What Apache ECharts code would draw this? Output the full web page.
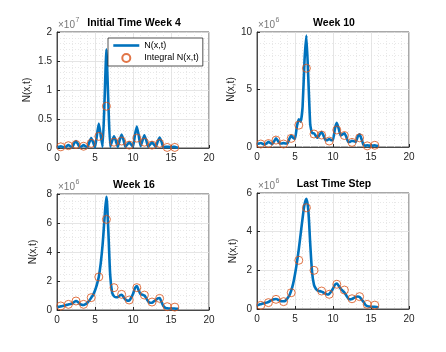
<!DOCTYPE html>
<html>
<head>
<meta charset="utf-8">
<script src="https://cdn.jsdelivr.net/npm/echarts@6/dist/echarts.min.js"></script>
<style>
  html, body { margin: 0; padding: 0; background: #fff; }
  #main { width: 446px; height: 352px; }
</style>
</head>
<body>
<div id="main"></div>
<script>
// x grid of the model curve (space)
var xFine = [0, 0.25, 0.5, 0.75, 1, 1.25, 1.5, 1.75, 2, 2.25, 2.5, 2.75, 3, 3.25, 3.5, 3.75,
  4, 4.25, 4.5, 4.75, 5, 5.25, 5.5, 5.75, 6, 6.25, 6.5, 6.75, 7, 7.25, 7.5, 7.75,
  8, 8.25, 8.5, 8.75, 9, 9.25, 9.5, 9.75, 10, 10.25, 10.5, 10.75, 11, 11.25, 11.5, 11.75,
  12, 12.25, 12.5, 12.75, 13, 13.25, 13.5, 13.75, 14, 14.25, 14.5, 14.75, 15, 15.25, 15.5, 15.75, 16];
// cell centres of the integral values
var xCells = [0.5, 1.5, 2.5, 3.5, 4.5, 5.5, 6.5, 7.5, 8.5, 9.5, 10.5, 11.5, 12.5, 13.5, 14.5, 15.5];

// week 4 (x 1e7)
var nWeek4 = [0.01, 0.02, 0.03, 0.02, 0.005, 0.03, 0.05, 0.03, 0.01, 0.08, 0.12, 0.07, 0.01, 0.03, 0.05, 0.03,
  0.01, 0.1, 0.17, 0.1, 0.01, 0.22, 0.42, 0.22, 0.02, 0.8, 1.7, 0.8, 0.02, 0.12, 0.2, 0.12,
  0.02, 0.14, 0.23, 0.14, 0.02, 0.06, 0.1, 0.06, 0.02, 0.22, 0.37, 0.22, 0.03, 0.13, 0.22, 0.13,
  0.02, 0.06, 0.1, 0.06, 0.02, 0.11, 0.18, 0.11, 0.01, 0.02, 0.02, 0.02, 0.01, 0.02, 0.02, 0.01, 0.005];
var intWeek4 = [0.02, 0.04, 0.06, 0.03, 0.08, 0.2, 0.72, 0.1, 0.12, 0.05, 0.17, 0.1, 0.05, 0.08, 0.01, 0.01];

// week 10 (x 1e6)
var nWeek10 = [0.25, 0.3, 0.35, 0.28, 0.2, 0.3, 0.45, 0.35, 0.25, 0.5, 0.75, 0.55, 0.3, 0.3, 0.35, 0.3,
  0.3, 0.7, 1.0, 0.8, 0.7, 1.8, 2.4, 2.2, 3.5, 7.5, 9.7, 6.0, 2.0, 1.2, 1.2, 0.95,
  0.8, 1.1, 1.3, 1.0, 0.6, 0.6, 0.7, 0.6, 0.6, 1.6, 2.1, 1.6, 1.0, 1.1, 1.2, 0.9,
  0.45, 0.45, 0.55, 0.5, 0.45, 0.9, 1.1, 0.7, 0.2, 0.12, 0.15, 0.12, 0.1, 0.12, 0.15, 0.1, 0.08];
var intWeek10 = [0.26, 0.3, 0.6, 0.26, 0.75, 1.9, 6.85, 1.13, 1.04, 0.52, 1.48, 1.0, 0.4, 0.8, 0.1, 0.15];

// week 16 (x 1e6)
var nWeek16 = [0.2, 0.22, 0.25, 0.28, 0.3, 0.34, 0.38, 0.42, 0.45, 0.55, 0.62, 0.55, 0.42, 0.36, 0.35, 0.4,
  0.5, 0.65, 0.85, 1.05, 1.35, 1.75, 2.3, 3.2, 4.5, 6.3, 7.8, 5.5, 2.4, 1.2, 0.95, 0.88,
  0.88, 1.0, 1.05, 0.9, 0.72, 0.65, 0.65, 0.85, 1.1, 1.5, 1.65, 1.35, 1.1, 1.05, 1.0, 0.8,
  0.6, 0.5, 0.5, 0.6, 0.68, 0.8, 0.82, 0.55, 0.28, 0.15, 0.12, 0.1, 0.1, 0.1, 0.1, 0.08, 0.08];
var intWeek16 = [0.28, 0.39, 0.62, 0.39, 0.85, 2.28, 6.25, 1.54, 1.08, 0.69, 1.54, 1.03, 0.55, 0.8, 0.23, 0.2];

// last time step (x 1e6)
var nLast = [0.2, 0.22, 0.25, 0.28, 0.3, 0.33, 0.36, 0.42, 0.47, 0.5, 0.52, 0.48, 0.43, 0.4, 0.4, 0.43,
  0.55, 0.7, 0.95, 1.3, 1.8, 2.4, 3.1, 3.9, 4.7, 5.4, 5.7, 5.1, 3.4, 1.9, 1.25, 1.05,
  0.95, 0.92, 0.9, 0.85, 0.8, 0.75, 0.78, 0.9, 1.05, 1.25, 1.32, 1.2, 1.05, 0.95, 0.85, 0.7,
  0.55, 0.5, 0.52, 0.58, 0.62, 0.65, 0.62, 0.5, 0.38, 0.22, 0.15, 0.13, 0.12, 0.12, 0.12, 0.1, 0.08];
var intLast = [0.19, 0.33, 0.5, 0.38, 0.84, 2.52, 5.24, 2.0, 0.93, 0.76, 1.28, 0.98, 0.53, 0.64, 0.24, 0.2];

var titles = ['Initial Time Week 4', 'Week 10', 'Week 16', 'Last Time Step'];
var exponents = ['7', '6', '6', '6'];
var yMax = [2, 10, 8, 6];
var yStep = [0.5, 5, 2, 2];
var yMinorSplit = [5, 5, 4, 4];
var lines = [nWeek4, nWeek10, nWeek16, nLast];
var dots = [intWeek4, intWeek10, intWeek16, intLast];

var boxes = [
  {left: 57, top: 32, width: 152, height: 116, nameGap: 25},
  {left: 257, top: 32, width: 152, height: 115, nameGap: 21},
  {left: 57, top: 194, width: 152, height: 116, nameGap: 19},
  {left: 257, top: 193, width: 152, height: 116, nameGap: 19}
];

var FONT = 'Liberation Sans, Arial, sans-serif';
var AX = '#262626';

function pairs(xs, ys) {
  return xs.map(function (x, i) { return [x, ys[i]]; });
}

var grids = [], xAxes = [], yAxes = [], series = [], graphics = [];
boxes.forEach(function (b, i) {
  grids.push({left: b.left, top: b.top, width: b.width, height: b.height,
    show: true, borderColor: AX, borderWidth: 0.8, backgroundColor: '#fff'});
  xAxes.push({
    type: 'value', gridIndex: i, min: 0, max: 20, interval: 5,
    axisLine: {show: true, lineStyle: {color: AX, width: 0.8}},
    axisTick: {show: true, inside: true, length: 3, lineStyle: {color: AX}},
    axisLabel: {color: AX, fontSize: 10, fontFamily: FONT, margin: 5},
    splitLine: {show: true, lineStyle: {color: '#dedede', width: 0.8}},
    minorTick: {show: false, splitNumber: 5},
    minorSplitLine: {show: true, lineStyle: {color: '#e2e2e2', type: [1, 2], width: 0.8}}
  });
  yAxes.push({
    type: 'value', gridIndex: i, min: 0, max: yMax[i], interval: yStep[i],
    name: 'N(x,t)', nameLocation: 'middle', nameGap: b.nameGap, nameRotate: 90,
    nameTextStyle: {color: AX, fontSize: 10, fontFamily: FONT},
    axisLine: {show: true, lineStyle: {color: AX, width: 0.8}},
    axisTick: {show: true, inside: true, length: 3, lineStyle: {color: AX}},
    axisLabel: {color: AX, fontSize: 10, fontFamily: FONT, margin: 5},
    splitLine: {show: true, lineStyle: {color: '#dedede', width: 0.8}},
    minorTick: {show: false, splitNumber: yMinorSplit[i]},
    minorSplitLine: {show: true, lineStyle: {color: '#e2e2e2', type: [1, 2], width: 0.8}}
  });
  series.push({
    name: 'N(x,t)', type: 'line', xAxisIndex: i, yAxisIndex: i,
    data: pairs(xFine, lines[i]), showSymbol: false, symbol: 'none',
    smooth: i >= 2 ? 0.3 : 0.15,
    lineStyle: {color: '#0072BD', width: 2.6}, itemStyle: {color: '#0072BD'},
    z: 3, animation: false
  });
  series.push({
    name: 'Integral N(x,t)', type: 'scatter', xAxisIndex: i, yAxisIndex: i,
    data: pairs(xCells, dots[i]), symbol: 'circle', symbolSize: 8,
    itemStyle: {color: 'rgba(255,255,255,0)', borderColor: '#D95319', borderWidth: 1},
    z: 4, animation: false
  });
  graphics.push({
    type: 'text', x: b.left + b.width / 2 + 1, y: b.top - 9,
    style: {text: titles[i], fill: '#000', font: 'bold 10.5px ' + FONT,
      textAlign: 'center', textVerticalAlign: 'middle'}
  });
  graphics.push({
    type: 'text', x: b.left + 1, y: b.top - 7,
    style: {text: '×10', fill: '#777', font: '10px ' + FONT,
      textAlign: 'left', textVerticalAlign: 'middle'}
  });
  graphics.push({
    type: 'text', x: b.left + 18.5, y: b.top - 12,
    style: {text: exponents[i], fill: '#777', font: '7px ' + FONT,
      textAlign: 'left', textVerticalAlign: 'middle'}
  });
});

var chart = echarts.init(document.getElementById('main'), null, {renderer: 'canvas'});
chart.setOption({
  backgroundColor: '#fff',
  animation: false,
  grid: grids,
  xAxis: xAxes,
  yAxis: yAxes,
  series: series,
  graphic: graphics,
  legend: {
    data: [
      {name: 'N(x,t)', itemStyle: {opacity: 0}, lineStyle: {color: '#0072BD', width: 2.6}},
      {name: 'Integral N(x,t)'}
    ],
    orient: 'vertical', left: 108, top: 38,
    itemWidth: 26, itemHeight: 8, itemGap: 3,
    padding: [3, 4, 3, 4],
    backgroundColor: '#fff', borderColor: AX, borderWidth: 0.8, borderRadius: 0,
    textStyle: {color: '#000', fontSize: 9, fontFamily: FONT},
    selectedMode: false
  }
});
</script>
</body>
</html>
